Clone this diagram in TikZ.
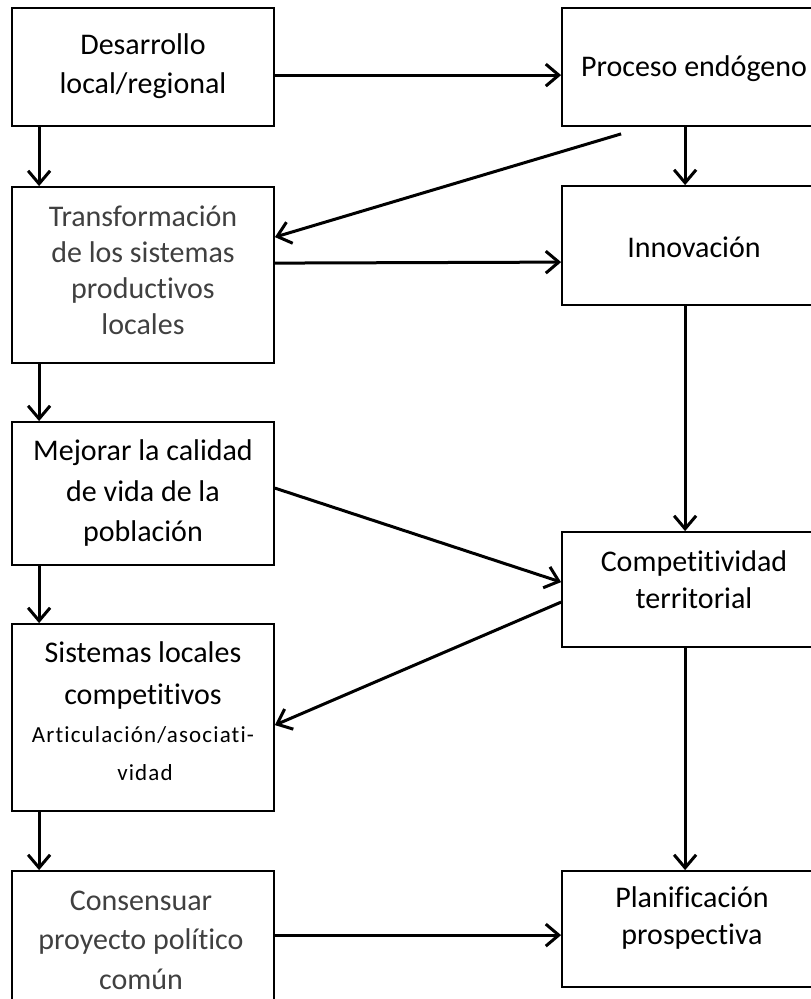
\documentclass[tikz,border=0pt]{standalone}
\usepackage{fontspec}
\setmainfont{Carlito}[Ligatures=NoCommon]
\usetikzlibrary{arrows.meta,calc}
\definecolor{txtgray}{HTML}{404040}
\begin{document}
\begin{tikzpicture}[x=1pt,y=-1pt,
  box/.style={draw, line width=1.8pt, inner sep=0pt},
  lbox/.style={box, minimum width=262pt},
  rbox/.style={box, minimum width=268pt},
  txt/.style={align=center, inner sep=0pt, font=\fontsize{30}{39.5}\selectfont},
  small/.style={align=center, inner sep=0pt, font=\fontsize{23}{38}\selectfont\addfontfeature{LetterSpace=5}},
  arr/.style={line width=3pt, -{Straight Barb[length=13pt,width=22pt]}}]
\useasboundingbox (0,0) rectangle (811,999);
\clip (0,0) rectangle (811,999);

% left column boxes
\node[lbox, minimum height=118pt] (l1) at (143,67) {};
\node[lbox, minimum height=176pt] (l2) at (143,275) {};
\node[lbox, minimum height=143pt] (l3) at (143,493.5) {};
\node[lbox, minimum height=187pt] (l4) at (143,717.5) {};
\node[lbox, minimum height=140pt] (l5) at (143,941) {};
% right column boxes
\node[rbox, minimum height=118pt] (r1) at (696,67) {};
\node[rbox, minimum height=119pt] (r2) at (696,245.5) {};
\node[rbox, minimum height=115pt] (r3) at (696,589.5) {};
\node[rbox, minimum height=116pt] (r4) at (696,929) {};

% texts
\node[txt] (t1) at (143,66) {Desarrollo\\local/regional};
\node[txt, font=\fontsize{30}{36}\selectfont] (t2) at (143,270) {\color{txtgray}Transformación\\\color{txtgray}de los sistemas\\\color{txtgray}productivos\\\color{txtgray}locales};
\node[txt, font=\fontsize{30}{40.5}\selectfont] (t3) at (143,493) {Mejorar la calidad\\de vida de la\\población};
\node[txt, font=\fontsize{30}{42}\selectfont] (t4) at (143,675) {Sistemas locales\\competitivos};
\node[small] (t4b) at (143,735) {Articulación/asociati-};
\node[small] (t4c) at (145,773) {vidad};
\node[txt] (t5) at (141,940) {\color{txtgray}Consensuar\\\color{txtgray}proyecto político\\\color{txtgray}común};
\node[txt] (s1) at (694,69) {Proceso endógeno};
\node[txt] (s2) at (694,247) {Innovación};
\node[txt, font=\fontsize{30}{37}\selectfont] (s3) at (694,580) {Competitividad\\territorial};
\node[txt, font=\fontsize{30}{37}\selectfont] (s4) at (692,918) {Planificación\\prospectiva};

% connectors
\draw[arr] ($(l1.north east)+(0,68)$) -- ($(r1.north west)+(0,68)$);
\draw[arr] ($(l1.south west)+(28,0)$) -- ($(l2.north west)+(28,0)$);
\draw[arr] ($(r1.south west)+(124,0)$) -- ($(r2.north west)+(124,0)$);
\draw[arr] ($(r1.south west)+(60,7)$) -- ($(l2.north east)+(0,51)$);
\draw[arr] ($(l2.north east)+(0,77)$) -- ($(r2.north west)+(0,77)$);
\draw[arr] ($(l2.south west)+(28,0)$) -- ($(l3.north west)+(28,0)$);
\draw[arr] ($(r2.south west)+(124,0)$) -- ($(r3.north west)+(124,0)$);
\draw[arr] ($(l3.north east)+(0,67)$) -- ($(r3.north west)+(0,51)$);
\draw[arr] ($(r3.north west)+(0,71)$) -- ($(l4.north east)+(0,102)$);
\draw[arr] ($(l3.south west)+(28,0)$) -- ($(l4.north west)+(28,0)$);
\draw[arr] ($(l4.south west)+(28,0)$) -- ($(l5.north west)+(28,0)$);
\draw[arr] ($(r3.south west)+(124,0)$) -- ($(r4.north west)+(124,0)$);
\draw[arr] ($(l5.north west)+(262,65)$) -- ($(r4.north west)+(0,65)$);
\end{tikzpicture}
\end{document}
